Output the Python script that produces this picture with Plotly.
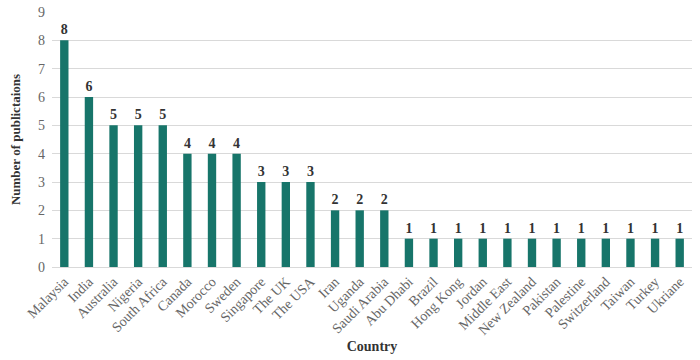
import plotly.graph_objects as go

countries = ["Malaysia", "India", "Australia", "Nigeria", "South Africa", "Canada", "Morocco",
             "Sweden", "Singapore", "The UK", "The USA", "Iran", "Uganda", "Saudi Arabia",
             "Abu Dhabi", "Brazil", "Hong Kong", "Jordan", "Middle East", "New Zealand",
             "Pakistan", "Palestine", "Switzerland", "Taiwan", "Turkey", "Ukriane"]
publications = [8, 6, 5, 5, 5, 4, 4, 4, 3, 3, 3, 2, 2, 2, 1, 1, 1, 1, 1, 1, 1, 1, 1, 1, 1, 1]

fig = go.Figure(go.Bar(
    x=countries, y=publications,
    marker=dict(color="#17756a", line=dict(width=0)),
    text=publications, textposition="outside",
    textfont=dict(family="Liberation Serif", size=14, color="#333333"),
    texttemplate="<b>%{text}</b>",
    cliponaxis=False,
    hoverinfo="skip",
))

fig.update_layout(
    width=700, height=360,
    margin=dict(l=52, r=8, t=12, b=93),
    plot_bgcolor="white", paper_bgcolor="white",
    bargap=0.66,
    showlegend=False,
    font=dict(family="Liberation Serif", color="#555555"),
)
fig.update_xaxes(
    automargin=False,
    tickangle=-45, tickfont=dict(size=14, color="#666666", family="Liberation Serif"),
    title=dict(text="<b>Country</b>", font=dict(size=14, color="#333333"), standoff=4),
    showline=True, linecolor="#d9d9d9", linewidth=1,
    ticklabeloverflow="allow",
)
fig.update_yaxes(
    automargin=False,
    range=[0, 9], dtick=1, showgrid=True, gridcolor="#d9d9d9", gridwidth=1,
    zeroline=False,
    tickfont=dict(size=14, color="#666666", family="Liberation Serif"),
    title=dict(text="<b>Number of publictaions</b>", font=dict(size=13, color="#333333"), standoff=14),
    ticks="", ticklen=0, ticklabelstandoff=6,
    ticklabeloverflow="allow",
)

fig.write_html("out.html", config={"displayModeBar": False},
               post_script="document.body.style.margin='0';")
